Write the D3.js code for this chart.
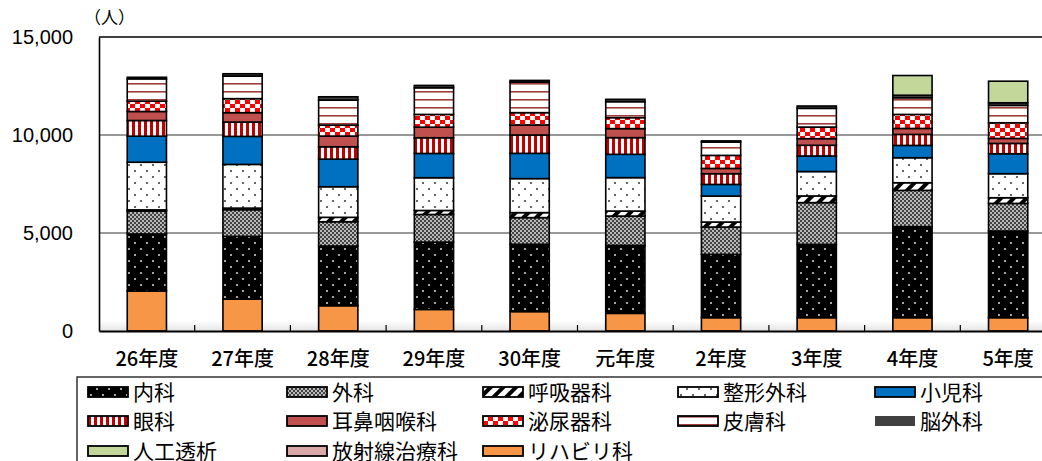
<!DOCTYPE html>
<html>
<head>
<meta charset="utf-8">
<script src="https://cdn.jsdelivr.net/npm/d3@7"></script>
<style>
  body { margin: 0; background: #fff; }
  svg { display: block; font-family: "Liberation Sans", "Noto Sans CJK JP", sans-serif; }
</style>
</head>
<body>
<div id="chart"></div>
<script>
// categories (fiscal years)
const years = ['26年度', '27年度', '28年度', '29年度', '30年度', '元年度', '2年度', '3年度', '4年度', '5年度'];

// series values (people)
const rehab      = [2040, 1630, 1290, 1100,  990,  900,  680,  680,  680,  680];
const naika      = [2910, 3200, 3045, 3435, 3435, 3470, 3230, 3740, 4645, 4420];
const geka       = [1170, 1360, 1240, 1410, 1360, 1495, 1395, 2130, 1850, 1410];
const kokyuki    = [  60,   80,  225,  205,  255,  255,  255,  340,  390,  290];
const seikei     = [2430, 2230, 1560, 1670, 1735, 1705, 1325, 1245, 1275, 1225];
const shoni      = [1330, 1430, 1410, 1240, 1290, 1190,  595,  795,  630, 1020];
const ganka      = [ 800,  730,  630,  800,  935,  850,  545,  545,  560,  525];
const jibi       = [ 460,  480,  545,  540,  510,  460,  270,  340,  305,  255];
const hinyo      = [ 525,  715,  560,  650,  630,  560,  665,  590,  715,  800];
const hifu       = [1140, 1150, 1275, 1360, 1560,  815,  680,  955,  850,  885];
const nogeka     = [  80,  120,  170,  120,   85,  120,   60,  120,  130,  135];
const toseki     = [   0,    0,    0,    0,    0,    0,    0,    0, 1005, 1100];
const hoshasen   = [   0,    0,    0,    0,    0,    0,    0,    0,    0,    0];

const yTicks = [0, 5000, 10000, 15000];

// stack order, bottom to top
const series = [
  { key: 'rehab',    name: 'リハビリ科',   values: rehab,    fill: '#F79646' },
  { key: 'naika',    name: '内科',         values: naika,    fill: 'url(#pNaika)' },
  { key: 'geka',     name: '外科',         values: geka,     fill: 'url(#pGeka)' },
  { key: 'kokyuki',  name: '呼吸器科',     values: kokyuki,  fill: 'url(#pKokyu)' },
  { key: 'seikei',   name: '整形外科',     values: seikei,   fill: 'url(#pSeikei)' },
  { key: 'shoni',    name: '小児科',       values: shoni,    fill: '#0070C0' },
  { key: 'ganka',    name: '眼科',         values: ganka,    fill: 'url(#pGanka)' },
  { key: 'jibi',     name: '耳鼻咽喉科',   values: jibi,     fill: '#C0504D' },
  { key: 'hinyo',    name: '泌尿器科',     values: hinyo,    fill: 'url(#pHinyo)' },
  { key: 'hifu',     name: '皮膚科',       values: hifu,     fill: 'url(#pHifu)' },
  { key: 'nogeka',   name: '脳外科',       values: nogeka,   fill: '#404040' },
  { key: 'toseki',   name: '人工透析',     values: toseki,   fill: '#C4D79B' },
  { key: 'hoshasen', name: '放射線治療科', values: hoshasen, fill: '#DAA7A7' }
];

// legend order (row by row)
const legendOrder = ['naika', 'geka', 'kokyuki', 'seikei', 'shoni',
                     'ganka', 'jibi', 'hinyo', 'hifu', 'nogeka',
                     'toseki', 'hoshasen', 'rehab'];

const W = 1042, H = 461;
const plot = { left: 99, top: 37, bottom: 331 };

const svg = d3.select('#chart').append('svg')
  .attr('width', W).attr('height', H);

// ---- patterns
const defs = svg.append('defs');

function pat(id, w, h) {
  return defs.append('pattern').attr('id', id)
    .attr('patternUnits', 'userSpaceOnUse')
    .attr('width', w).attr('height', h);
}

let p = pat('pNaika', 12, 12);
p.append('rect').attr('width', 12).attr('height', 12).attr('fill', '#000');
p.append('circle').attr('cx', 3).attr('cy', 3).attr('r', 1).attr('fill', '#ddd');
p.append('circle').attr('cx', 9).attr('cy', 9).attr('r', 1).attr('fill', '#ddd');

p = pat('pGeka', 4, 4);
p.append('rect').attr('width', 4).attr('height', 4).attr('fill', '#b8b8b8');
p.append('rect').attr('width', 2).attr('height', 2).attr('fill', '#444');
p.append('rect').attr('x', 2).attr('y', 2).attr('width', 2).attr('height', 2).attr('fill', '#444');

p = pat('pKokyu', 9, 9).attr('patternTransform', 'rotate(45)');
p.append('rect').attr('width', 9).attr('height', 9).attr('fill', '#fff');
p.append('rect').attr('width', 4).attr('height', 9).attr('fill', '#000');

p = pat('pSeikei', 12, 12);
p.append('rect').attr('width', 12).attr('height', 12).attr('fill', '#fff');
p.append('circle').attr('cx', 3).attr('cy', 3).attr('r', 1).attr('fill', '#333');
p.append('circle').attr('cx', 9).attr('cy', 9).attr('r', 1).attr('fill', '#333');

p = pat('pGanka', 6, 6);
p.append('rect').attr('width', 6).attr('height', 6).attr('fill', '#fff');
p.append('rect').attr('width', 3).attr('height', 6).attr('fill', '#C00000');

p = pat('pHinyo', 10, 8);
p.append('rect').attr('width', 10).attr('height', 8).attr('fill', '#fff');
p.append('rect').attr('width', 5).attr('height', 4).attr('fill', '#FF0000');
p.append('rect').attr('x', 5).attr('y', 4).attr('width', 5).attr('height', 4).attr('fill', '#FF0000');

p = pat('pHifu', 8, 8);
p.append('rect').attr('width', 8).attr('height', 8).attr('fill', '#fff');
p.append('rect').attr('y', 3).attr('width', 8).attr('height', 1.6).attr('fill', '#A03C3C');

const grad = defs.append('linearGradient').attr('id', 'floor')
  .attr('x1', 0).attr('x2', 0).attr('y1', 0).attr('y2', 1);
grad.append('stop').attr('offset', '0%').attr('stop-color', '#fff');
grad.append('stop').attr('offset', '100%').attr('stop-color', '#e4e4e4');

// ---- scales
const x = d3.scaleBand()
  .domain(years)
  .range([plot.left, plot.left + 957])
  .paddingInner(0.59)
  .paddingOuter(0.295);

const y = d3.scaleLinear()
  .domain([0, 15000])
  .range([plot.bottom, plot.top]);

// floor shading
svg.append('rect')
  .attr('x', plot.left).attr('y', plot.bottom - 10)
  .attr('width', W - plot.left).attr('height', 10)
  .attr('fill', 'url(#floor)');

// gridlines
svg.append('g').selectAll('line')
  .data(yTicks.filter(d => d > 0 && d < 15000))
  .join('line')
  .attr('x1', plot.left).attr('x2', W)
  .attr('y1', d => y(d)).attr('y2', d => y(d))
  .attr('stroke', '#333').attr('stroke-width', 1);

// top border
svg.append('line')
  .attr('x1', plot.left).attr('x2', W)
  .attr('y1', y(15000)).attr('y2', y(15000))
  .attr('stroke', '#000').attr('stroke-width', 1.5);

// ---- stacked bars
const table = years.map((yr, i) => {
  const row = { year: yr };
  series.forEach(s => { row[s.key] = s.values[i]; });
  return row;
});

const stack = d3.stack().keys(series.map(s => s.key));
const layers = stack(table);

svg.append('g').selectAll('g')
  .data(layers)
  .join('g')
  .attr('fill', (d, i) => series[i].fill)
  .selectAll('rect')
  .data(d => d.filter(v => v[1] - v[0] > 0))
  .join('rect')
  .attr('x', d => x(d.data.year))
  .attr('width', x.bandwidth())
  .attr('y', d => y(d[1]))
  .attr('height', d => y(d[0]) - y(d[1]))
  .attr('stroke', '#000')
  .attr('stroke-width', 1.6);

// ---- axes
const yAxis = svg.append('g')
  .attr('transform', `translate(${plot.left},0)`)
  .call(d3.axisLeft(y).tickValues(yTicks).tickFormat(d3.format(',')).tickSize(0).tickPadding(26));
yAxis.select('.domain').attr('stroke', '#000').attr('stroke-width', 1.6);
yAxis.selectAll('text').attr('font-size', 20).attr('fill', '#000')
  .attr('font-family', '"Liberation Sans", Arial, sans-serif');

const xAxis = svg.append('g')
  .attr('transform', `translate(0,${plot.bottom})`)
  .call(d3.axisBottom(x).tickSize(0).tickPadding(21));
xAxis.select('.domain').attr('stroke', '#000').attr('stroke-width', 2);
xAxis.selectAll('text').attr('font-size', 20).attr('fill', '#000')
  .attr('font-weight', 500)
  .attr('font-family', '"Noto Sans CJK JP", sans-serif');

// category separator ticks
svg.append('g').selectAll('line')
  .data(years.slice(1))
  .join('line')
  .attr('x1', d => x(d) - (x.step() - x.bandwidth()) / 2)
  .attr('x2', d => x(d) - (x.step() - x.bandwidth()) / 2)
  .attr('y1', plot.bottom).attr('y2', plot.bottom - 6)
  .attr('stroke', '#000').attr('stroke-width', 1.2);

// unit label
svg.append('text')
  .attr('x', 84).attr('y', 24)
  .attr('font-size', 17)
  .attr('font-family', '"Noto Sans CJK JP", sans-serif')
  .text('（人）');

// ---- legend
svg.append('rect')
  .attr('x', 77).attr('y', 377)
  .attr('width', W).attr('height', 100)
  .attr('fill', '#fff').attr('stroke', '#333').attr('stroke-width', 1.5);

const colX = [88, 287, 483, 678, 875];
const rowY = [392, 421, 451];

const legend = svg.append('g').selectAll('g')
  .data(legendOrder.map(k => series.find(s => s.key === k)))
  .join('g')
  .attr('transform', (d, i) => `translate(${colX[i % 5]},${rowY[Math.floor(i / 5)]})`);

legend.append('rect')
  .attr('x', 0).attr('y', -5)
  .attr('width', 40).attr('height', 10)
  .attr('fill', d => d.fill)
  .attr('stroke', d => d.key === 'nogeka' ? 'none' : '#000')
  .attr('stroke-width', 1.8);

legend.append('text')
  .attr('x', 45).attr('y', 0)
  .attr('dy', '0.36em')
  .attr('font-size', 21)
  .attr('font-family', '"Noto Sans CJK JP", sans-serif')
  .text(d => d.name);
</script>
</body>
</html>
